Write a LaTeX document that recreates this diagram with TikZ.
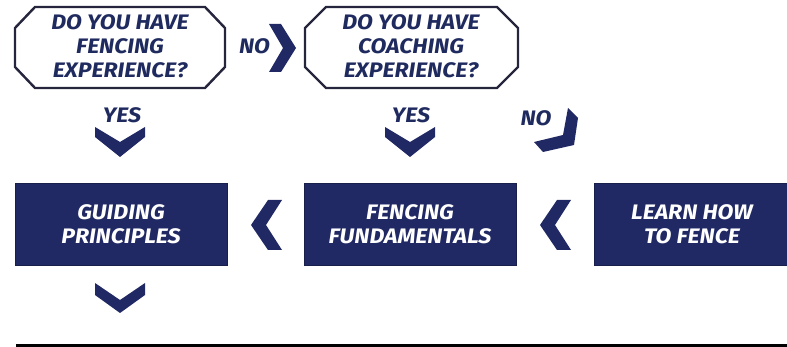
\documentclass[tikz,border=0pt]{standalone}
\usepackage{fontspec}
\setmainfont{Fira Sans}[FakeStretch=1.1]
\definecolor{navy}{HTML}{212964}
\definecolor{ink}{HTML}{1F2A5E}
\definecolor{edge}{HTML}{25253D}
\begin{document}
\begin{tikzpicture}[x=1pt,y=-1pt,
  txt/.style={font=\fontsize{21}{24}\selectfont\bfseries\itshape, align=center, inner sep=0pt},
  qtxt/.style={txt, text=ink},
  octo/.style={draw=edge, line width=2.4pt, line join=miter},
  box/.style={txt, text=white, fill=navy, draw=navy!75!black, line width=0.8pt, minimum width=212pt, minimum height=82pt},
  chev/.style={fill=navy, draw=none}]
\useasboundingbox (0,0) rectangle (787,347);
% question octagons
\draw[octo] (15,28) -- (35,7) -- (205,7) -- (225,28) -- (225,67) -- (205,88) -- (35,88) -- (15,67) -- cycle;
\node[qtxt] (q1) at (120,46.5) {DO YOU HAVE\\FENCING\\EXPERIENCE?};
\draw[octo] (305,28) -- (326,7) -- (497,7) -- (518,28) -- (518,67) -- (497,88) -- (326,88) -- (305,67) -- cycle;
\node[qtxt] (q2) at (411,46.5) {DO YOU HAVE\\COACHING\\EXPERIENCE?};
% labels
\node[qtxt] (no1) at (254.5,46) {NO};
\node[qtxt] (yes1) at (122,115) {YES};
\node[qtxt] (yes2) at (411,115) {YES};
\node[qtxt] (no2) at (536,118) {NO};
% boxes
\node[box] (gp) at (121,224) {GUIDING\\PRINCIPLES};
\node[box] (ff) at (410,224) {FENCING\\FUNDAMENTALS};
\node[box, minimum width=196pt] (lf) at (692,224) {LEARN HOW\\TO FENCE};
% chevrons
\fill[chev] (269,24) -- (281,24) -- (296,48) -- (281,72) -- (269,72) -- (283,48) -- cycle;
\fill[chev] (95,127) -- (120,142) -- (145,127) -- (145,137) -- (120,157) -- (95,137) -- cycle;
\fill[chev] (385,127) -- (410,142) -- (435,127) -- (435,137) -- (410,157) -- (385,137) -- cycle;
\fill[chev] (568,108) -- (578,118) -- (574,145) -- (543,152) -- (534,142) -- (563,135) -- cycle;
\fill[chev] (282,200) -- (268,200) -- (251,225) -- (268,250) -- (282,250) -- (266,225) -- cycle;
\fill[chev] (571,200) -- (557,200) -- (540,225) -- (557,250) -- (571,250) -- (555,225) -- cycle;
\fill[chev] (95,283) -- (120,300) -- (145,283) -- (145,295) -- (120,313) -- (95,295) -- cycle;
% rule
\draw[line width=3pt, black] (16,345.5) -- (787,345.5);
\end{tikzpicture}
\end{document}
